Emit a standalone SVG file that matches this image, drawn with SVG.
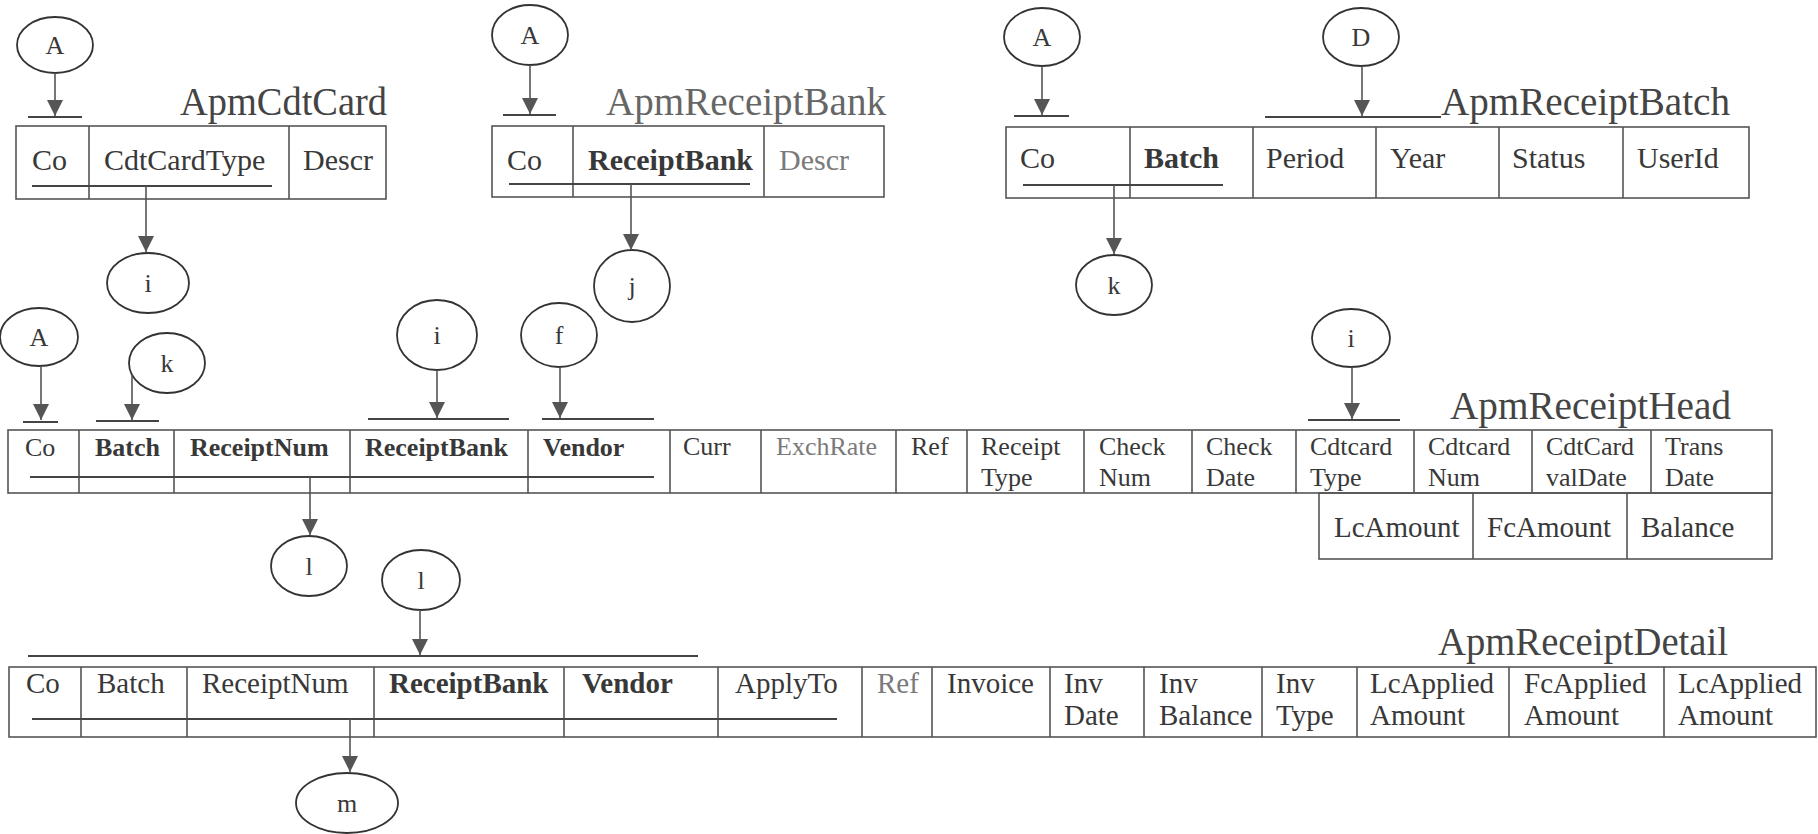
<svg xmlns="http://www.w3.org/2000/svg" width="1818" height="834" viewBox="0 0 1818 834">
<style>
  text { font-family: "Liberation Serif", "Times New Roman", serif; fill: #383838; }
  .t { font-size: 40px; fill: #444; }
  .c { font-size: 29px; }
  .c2 { font-size: 30px; }
  .h { font-size: 26px; }
  .b { font-weight: bold; }
  .g { fill: #7a7a7a; }
  .lbl { font-size: 26px; text-anchor: middle; }
  .cell { fill: none; stroke: #555; stroke-width: 1.6; }
  .key { stroke: #444; stroke-width: 1.8; fill: none; }
  .bub { fill: #fff; stroke: #333; stroke-width: 1.8; }
  .arr { stroke: #555; stroke-width: 1.6; fill: none; marker-end: url(#ah); }
  .tick { stroke: #444; stroke-width: 1.8; fill: none; }
</style>
<defs>
  <marker id="ah" markerUnits="userSpaceOnUse" markerWidth="18" markerHeight="18" refX="16" refY="8" orient="auto">
    <path d="M0,0 L16,8 L0,16 Z" fill="#555"/>
  </marker>
</defs>
<rect width="1818" height="834" fill="#fff"/>

<!-- ApmCdtCard -->
<g id="ApmCdtCard">
  <text class="t" x="180" y="115" textLength="207" lengthAdjust="spacingAndGlyphs">ApmCdtCard</text>
  <rect class="cell" x="16" y="126" width="370" height="73"/>
  <path class="cell" d="M89,126 V199 M289,126 V199"/>
  <text class="c2" x="32" y="170">Co</text>
  <text class="c2" x="104" y="170">CdtCardType</text>
  <text class="c2" x="303" y="170">Descr</text>
  <path class="key" d="M32,186 H272"/>
</g>

<!-- ApmReceiptBank -->
<g id="ApmReceiptBank">
  <text class="t" x="606" y="115" textLength="280" lengthAdjust="spacingAndGlyphs" style="fill:#666">ApmReceiptBank</text>
  <rect class="cell" x="492" y="126" width="392" height="71"/>
  <path class="cell" d="M573,126 V197 M764,126 V197"/>
  <text class="c2" x="507" y="170">Co</text>
  <text class="c2 b" x="588" y="170">ReceiptBank</text>
  <text class="c2 g" x="779" y="170">Descr</text>
  <path class="key" d="M509,184 H750"/>
</g>

<!-- ApmReceiptBatch -->
<g id="ApmReceiptBatch">
  <text class="t" x="1441" y="115" textLength="289" lengthAdjust="spacingAndGlyphs">ApmReceiptBatch</text>
  <rect class="cell" x="1006" y="127" width="743" height="71"/>
  <path class="cell" d="M1130,127 V198 M1253,127 V198 M1376,127 V198 M1499,127 V198 M1623,127 V198"/>
  <text class="c2" x="1020" y="168">Co</text>
  <text class="c2 b" x="1144" y="168">Batch</text>
  <text class="c2" x="1266" y="168">Period</text>
  <text class="c2" x="1390" y="168">Year</text>
  <text class="c2" x="1512" y="168">Status</text>
  <text class="c2" x="1637" y="168">UserId</text>
  <path class="key" d="M1023,185 H1223"/>
</g>

<!-- ApmReceiptHead -->
<g id="ApmReceiptHead">
  <text class="t" x="1450" y="419" textLength="281" lengthAdjust="spacingAndGlyphs">ApmReceiptHead</text>
  <rect class="cell" x="8" y="430" width="1764" height="63"/>
  <rect class="cell" x="1319" y="493" width="453" height="66"/>
  <path class="cell" d="M79,430 V493 M174,430 V493 M350,430 V493 M528,430 V493 M670,430 V493 M761,430 V493 M896,430 V493 M967,430 V493 M1084,430 V493 M1192,430 V493 M1296,430 V493 M1414,430 V493 M1532,430 V493 M1651,430 V493 M1473,493 V559 M1627,493 V559"/>
  <text class="h" x="25" y="456">Co</text>
  <text class="h b" x="95" y="456">Batch</text>
  <text class="h b" x="190" y="456">ReceiptNum</text>
  <text class="h b" x="365" y="456">ReceiptBank</text>
  <text class="h b" x="543" y="456">Vendor</text>
  <text class="h" x="683" y="455">Curr</text>
  <text class="h g" x="776" y="455">ExchRate</text>
  <text class="h" x="911" y="455">Ref</text>
  <text class="h" x="981" y="455">Receipt</text>
  <text class="h" x="981" y="486">Type</text>
  <text class="h" x="1099" y="455">Check</text>
  <text class="h" x="1099" y="486">Num</text>
  <text class="h" x="1206" y="455">Check</text>
  <text class="h" x="1206" y="486">Date</text>
  <text class="h" x="1310" y="455">Cdtcard</text>
  <text class="h" x="1310" y="486">Type</text>
  <text class="h" x="1428" y="455">Cdtcard</text>
  <text class="h" x="1428" y="486">Num</text>
  <text class="h" x="1546" y="455">CdtCard</text>
  <text class="h" x="1546" y="486">valDate</text>
  <text class="h" x="1665" y="455">Trans</text>
  <text class="h" x="1665" y="486">Date</text>
  <text class="c" x="1334" y="537">LcAmount</text>
  <text class="c" x="1487" y="537">FcAmount</text>
  <text class="c" x="1641" y="537">Balance</text>
  <path class="key" d="M30,477 H654"/>
</g>

<!-- ApmReceiptDetail -->
<g id="ApmReceiptDetail">
  <text class="t" x="1438" y="655" textLength="290" lengthAdjust="spacingAndGlyphs">ApmReceiptDetail</text>
  <rect class="cell" x="9" y="667" width="1807" height="70"/>
  <path class="cell" d="M81,667 V737 M187,667 V737 M374,667 V737 M564,667 V737 M718,667 V737 M862,667 V737 M932,667 V737 M1050,667 V737 M1144,667 V737 M1262,667 V737 M1357,667 V737 M1509,667 V737 M1664,667 V737"/>
  <text class="c" x="26" y="693">Co</text>
  <text class="c" x="97" y="693">Batch</text>
  <text class="c" x="202" y="693">ReceiptNum</text>
  <text class="c b" x="389" y="693">ReceiptBank</text>
  <text class="c b" x="582" y="693">Vendor</text>
  <text class="c" x="735" y="693">ApplyTo</text>
  <text class="c g" x="877" y="693">Ref</text>
  <text class="c" x="947" y="693">Invoice</text>
  <text class="c" x="1064" y="693">Inv</text>
  <text class="c" x="1064" y="725">Date</text>
  <text class="c" x="1159" y="693">Inv</text>
  <text class="c" x="1159" y="725">Balance</text>
  <text class="c" x="1276" y="693">Inv</text>
  <text class="c" x="1276" y="725">Type</text>
  <text class="c" x="1370" y="693">LcApplied</text>
  <text class="c" x="1370" y="725">Amount</text>
  <text class="c" x="1524" y="693">FcApplied</text>
  <text class="c" x="1524" y="725">Amount</text>
  <text class="c" x="1678" y="693">LcApplied</text>
  <text class="c" x="1678" y="725">Amount</text>
  <path class="key" d="M32,719 H837"/>
</g>

<!-- reference bubbles -->
<g id="refA1"><ellipse class="bub" cx="55" cy="45" rx="38" ry="28"/><text class="lbl" x="55" y="54">A</text></g>
<g id="refI1"><ellipse class="bub" cx="148" cy="283" rx="41" ry="30"/><text class="lbl" x="148" y="292">i</text></g>
<g id="refA2"><ellipse class="bub" cx="530" cy="35" rx="38" ry="30"/><text class="lbl" x="530" y="44">A</text></g>
<g id="refJ"><ellipse class="bub" cx="632" cy="286" rx="38" ry="36"/><text class="lbl" x="632" y="295">j</text></g>
<g id="refA3"><ellipse class="bub" cx="1042" cy="37" rx="38" ry="29"/><text class="lbl" x="1042" y="46">A</text></g>
<g id="refD"><ellipse class="bub" cx="1361" cy="37" rx="38" ry="29"/><text class="lbl" x="1361" y="46">D</text></g>
<g id="refK1"><ellipse class="bub" cx="1114" cy="285" rx="38" ry="30"/><text class="lbl" x="1114" y="294">k</text></g>
<g id="refA4"><ellipse class="bub" cx="39" cy="337" rx="39" ry="29"/><text class="lbl" x="39" y="346">A</text></g>
<g id="refK2"><ellipse class="bub" cx="167" cy="363" rx="38" ry="30"/><text class="lbl" x="167" y="372">k</text></g>
<g id="refI2"><ellipse class="bub" cx="437" cy="335" rx="40" ry="35"/><text class="lbl" x="437" y="344">i</text></g>
<g id="refF"><ellipse class="bub" cx="559" cy="335" rx="38" ry="32"/><text class="lbl" x="559" y="344">f</text></g>
<g id="refI3"><ellipse class="bub" cx="1351" cy="338" rx="39" ry="29"/><text class="lbl" x="1351" y="347">i</text></g>
<g id="refL1"><ellipse class="bub" cx="309" cy="566" rx="38" ry="30"/><text class="lbl" x="309" y="575">l</text></g>
<g id="refL2"><ellipse class="bub" cx="421" cy="580" rx="39" ry="30"/><text class="lbl" x="421" y="589">l</text></g>
<g id="refM"><ellipse class="bub" cx="347" cy="803" rx="51" ry="30"/><text class="lbl" x="347" y="812">m</text></g>

<!-- connectors -->
<g id="connectors">
  <path class="arr" d="M55,73 V116"/>
  <path class="tick" d="M28,117 H82"/>
  <path class="arr" d="M146,186 V252"/>
  <path class="arr" d="M530,65 V114"/>
  <path class="tick" d="M503,115 H556"/>
  <path class="arr" d="M631,184 V250"/>
  <path class="arr" d="M1042,66 V115"/>
  <path class="tick" d="M1014,116 H1069"/>
  <path class="arr" d="M1362,66 V116"/>
  <path class="tick" d="M1265,117 H1441"/>
  <path class="arr" d="M1114,185 V254"/>
  <path class="arr" d="M41,366 V420"/>
  <path class="tick" d="M23,422 H58"/>
  <path class="arr" d="M132,375 V420"/>
  <path class="tick" d="M96,421 H159"/>
  <path class="arr" d="M437,370 V418"/>
  <path class="tick" d="M368,419 H509"/>
  <path class="arr" d="M560,367 V418"/>
  <path class="tick" d="M542,419 H654"/>
  <path class="arr" d="M1352,367 V419"/>
  <path class="tick" d="M1308,420 H1400"/>
  <path class="arr" d="M310,477 V535"/>
  <path class="arr" d="M420,610 V655"/>
  <path class="tick" d="M28,656 H698"/>
  <path class="arr" d="M350,719 V772"/>
</g>
</svg>
